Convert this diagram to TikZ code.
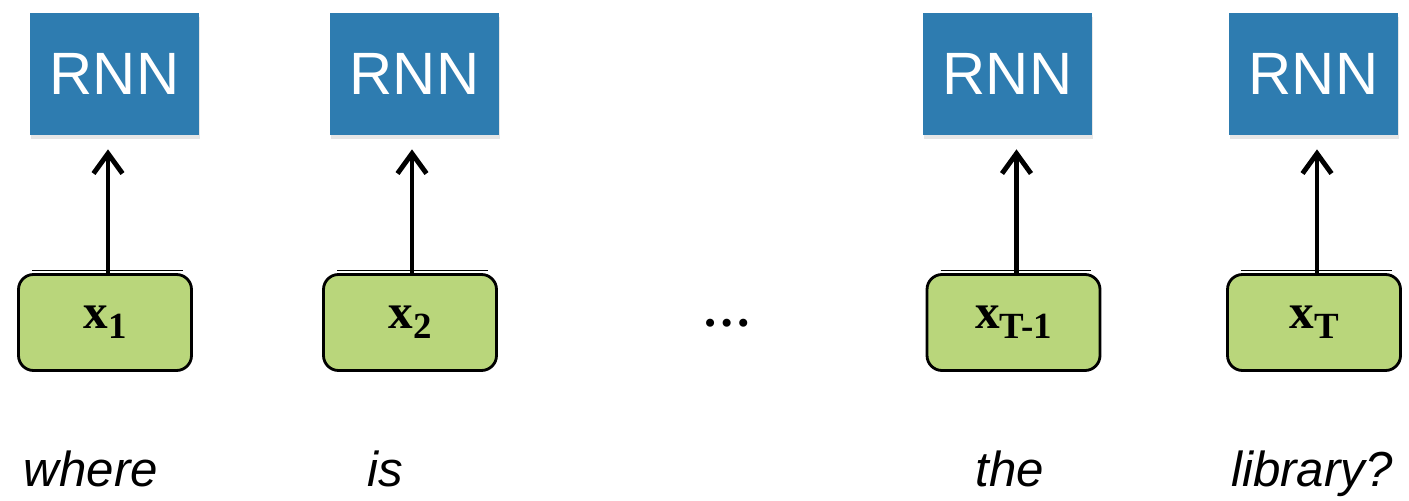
\documentclass[tikz,border=0pt]{standalone}
\usepackage{fontspec}
\setmainfont{Liberation Serif}
\setsansfont{Liberation Sans}
\usetikzlibrary{arrows.meta,shadows}
\definecolor{rnnblue}{RGB}{46,124,176}
\definecolor{inpgreen}{RGB}{185,214,123}
\newcommand{\xin}[1]{\textbf{x}\raisebox{-0.2cm}{\fontsize{21}{21}\selectfont\bfseries #1}}
\begin{document}
\begin{tikzpicture}[
    rnn/.style={fill=rnnblue, minimum width=3.38cm, minimum height=2.44cm,
      inner sep=0pt, text=white, font=\sffamily\fontsize{34}{36}\selectfont,
      drop shadow={shadow xshift=0.02cm, shadow yshift=-0.08cm, opacity=0.2}},
    inp/.style={draw, line width=1.6pt, fill=inpgreen, rounded corners=0.3cm,
      minimum width=3.46cm, minimum height=1.92cm, inner sep=0pt,
      font=\fontsize{28}{28}\selectfont\bfseries},
    word/.style={anchor=base, font=\sffamily\itshape\fontsize{28}{28}\selectfont},
    feed/.style={line width=2.8pt, -{Straight Barb[length=0.4cm, width=0.58cm, line width=2.8pt]},
      shorten >=0.28cm}
  ]
  \useasboundingbox (0,0) rectangle (28.18,10.02);
  \draw
    (2.29,8.54) node[rnn] (r1){RNN}
    (8.29,8.54) node[rnn] (r2){RNN}
    (20.15,8.54) node[rnn] (r3){RNN}
    (26.27,8.54) node[rnn] (r4){RNN};
  \draw
    (2.10,3.57) node[inp] (x1){\xin{1}}
    (8.20,3.57) node[inp] (x2){\xin{2}}
    (20.27,3.57) node[inp] (x3){\xin{T-1}}
    (26.28,3.57) node[inp] (x4){\xin{T}};
  \node[font=\fontsize{28}{28}\selectfont\bfseries] (dots) at (14.54,3.55) {\dots};
  \draw
    (1.82,0.28) node[word] (w1){where}
    (7.70,0.28) node[word] (w2){is}
    (20.20,0.28) node[word] (w3){the}
    (26.24,0.28) node[word] (w4){library?};
  % faint edges above the input boxes
  \begin{scope}[line width=0.5pt]
    \draw ([xshift=0.3cm,yshift=0.05cm]x1.north west) -- ([xshift=-0.2cm,yshift=0.05cm]x1.north east);
    \draw ([xshift=0.3cm,yshift=0.05cm]x2.north west) -- ([xshift=-0.2cm,yshift=0.05cm]x2.north east);
    \draw ([xshift=0.3cm,yshift=0.05cm]x3.north west) -- ([xshift=-0.2cm,yshift=0.05cm]x3.north east);
    \draw ([xshift=0.3cm,yshift=0.05cm]x4.north west) -- ([xshift=-0.2cm,yshift=0.05cm]x4.north east);
  \end{scope}
  \begin{scope}[feed]
    \draw ([xshift=0.06cm]x1.north) -- ([xshift=0.06cm]x1.north |- r1.south);
    \draw ([xshift=0.04cm]x2.north) -- ([xshift=0.04cm]x2.north |- r2.south);
    \draw ([xshift=0.06cm]x3.north) -- ([xshift=0.06cm]x3.north |- r3.south);
    \draw ([xshift=0.06cm]x4.north) -- ([xshift=0.06cm]x4.north |- r4.south);
  \end{scope}
\end{tikzpicture}
\end{document}
